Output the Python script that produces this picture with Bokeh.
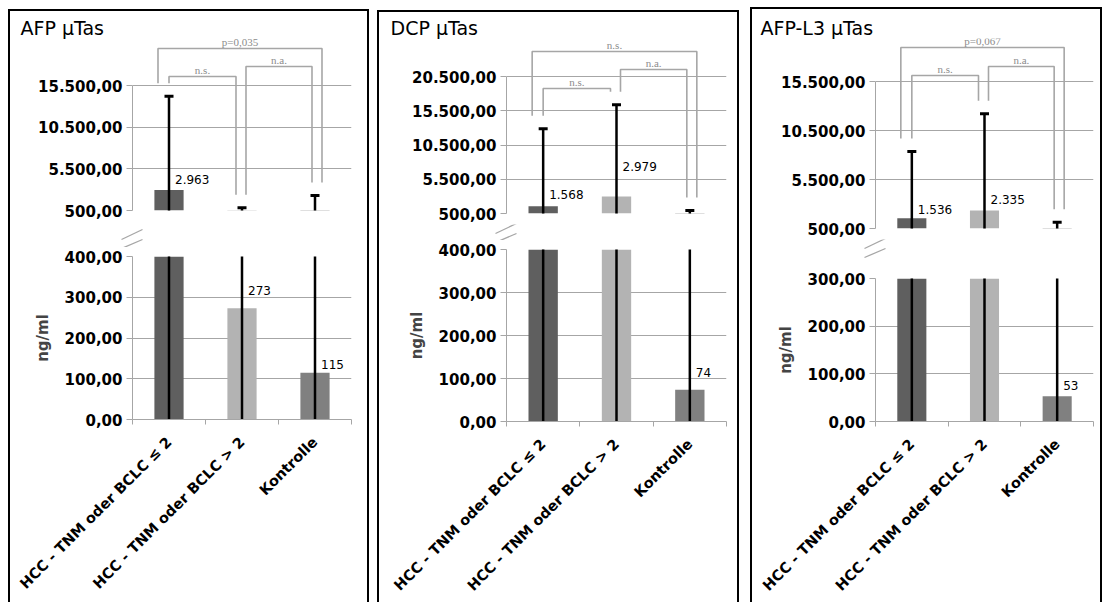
import math

from bokeh.core.properties import value
from bokeh.embed import file_html
from bokeh.layouts import column, row
from bokeh.models import ColumnDataSource, FixedTicker, LabelSet, Range1d, Title
from bokeh.plotting import figure
from bokeh.resources import INLINE

# ---------------------------------------------------------------- data
categories = ["HCC - TNM oder BCLC \u2264 2", "HCC - TNM oder BCLC > 2", "Kontrolle"]

titles = ["AFP \u00b5Tas", "DCP \u00b5Tas", "AFP-L3 \u00b5Tas"]

afp_mean = [2963, 273, 115]
afp_err_top = [14200, 830, 2300]
dcp_mean = [1568, 2979, 74]
dcp_err_top = [12870, 16370, 940]
afpl3_mean = [1536, 2335, 53]
afpl3_err_top = [8350, 12200, 1140]

afp_upper_ticks = [500, 5500, 10500, 15500]
dcp_upper_ticks = [500, 5500, 10500, 15500, 20500]
afpl3_upper_ticks = [500, 5500, 10500, 15500]
afp_lower_ticks = [0, 100, 200, 300, 400]
dcp_lower_ticks = [0, 100, 200, 300, 400]
afpl3_lower_ticks = [0, 100, 200, 300]

test_pairs = [(0, 2), (0, 1), (1, 2)]
afp_tests = ["p=0,035", "n.s.", "n.a."]
dcp_tests = ["n.s.", "n.s.", "n.a."]
afpl3_tests = ["p=0,067", "n.s.", "n.a."]

# ---------------------------------------------------------------- styling
BAR_COLORS = ["#5f5f5f", "#b3b3b3", "#808080"]
GRID = "#a6a6a6"
BRACKET = "#a6a6a6"
BRACKET_TEXT = "#8c8c8c"
FONT = "DejaVu Sans"
SERIF = "Liberation Serif"
WINDOW_H = 602
PAD_UP = 11  # room below the upper section for its lowest tick label
PAD_LO = 9   # room above the lower section for its highest tick label

# page geometry of each panel (pixels)
LAYOUT = [
    dict(box=(10, 11, 367), title_x=20, frame_x=(132, 351), upper_top=38, y_base=210, y_toptick=85,
         y_cut=256, y_zero=419, y_break=238, bracket_y=(48, 76, 66), lifts=(10, 18, 8)),
    dict(box=(379, 12, 737), title_x=390, frame_x=(506, 726), upper_top=38, y_base=213, y_toptick=76,
         y_cut=249, y_zero=427, y_break=232, bracket_y=(51, 88, 69), lifts=(12, 30, 17)),
    dict(box=(752, 9, 1100), title_x=760, frame_x=(875, 1093), upper_top=38, y_base=228, y_toptick=81,
         y_cut=278, y_zero=423, y_break=247, bracket_y=(47, 75, 66), lifts=(9, 11, 11)),
]
# horizontal offsets (px) of the bracket legs from the bar centres
LEG_OFFSETS = [(-11, 7), (0, -6), (4, -3)]
LEG_GAP = 13  # px between an error cap and the bracket leg above it


def german(v, decimals=0):
    s = f"{v:,.{decimals}f}"
    return s.replace(",", "\u00a7").replace(".", ",").replace("\u00a7", ".")


def style_yaxis(p, ticks, labels):
    ax = p.yaxis[0]
    ax.ticker = FixedTicker(ticks=ticks, minor_ticks=[])
    ax.major_label_overrides = {t: lab for t, lab in zip(ticks, labels)}
    ax.axis_line_color = GRID
    ax.major_tick_line_color = GRID
    ax.major_tick_in = 0
    ax.major_tick_out = 6
    ax.minor_tick_line_color = None
    ax.major_label_standoff = 4
    ax.major_label_text_font = FONT
    ax.major_label_text_font_style = "bold"
    ax.major_label_text_font_size = "15px"
    ax.major_label_text_color = "#000000"
    p.ygrid.grid_line_color = GRID
    p.ygrid.grid_line_width = 1
    p.xgrid.visible = False


def base_figure(width, height, x_range, y_range, borders, **kw):
    left, right, top, bottom = borders
    p = figure(width=width, height=height, x_range=x_range, y_range=y_range,
               output_backend="svg", toolbar_location=None,
               min_border_left=left, min_border_right=right,
               min_border_top=top, min_border_bottom=bottom, **kw)
    p.background_fill_color = "white"
    p.border_fill_color = "white"
    p.outline_line_color = None
    return p


def build_panel(title, means, err_tops, up_ticks, low_ticks, tests, g):
    left, top, right = g["box"]
    fl, fr = g["frame_x"]
    width = right - left
    px_per_cat = (fr - fl) / len(categories)
    centers = [i + 0.5 for i in range(len(categories))]
    err_lows = [m - (t - m) for m, t in zip(means, err_tops)]
    src = ColumnDataSource(dict(x=centers, mean=means, top=err_tops, low=err_lows, color=BAR_COLORS))

    # ---------- upper (broken) section
    up_units = (up_ticks[-1] - up_ticks[0]) / (g["y_base"] - g["y_toptick"])
    up_end = up_ticks[0] + (g["y_base"] - g["upper_top"]) * up_units
    up = base_figure(width, g["y_base"] - top + PAD_UP, Range1d(0, 3), Range1d(up_ticks[0], up_end),
                     (fl - left, right - fr, g["upper_top"] - top, PAD_UP), x_axis_location=None)
    up.add_layout(Title(text=title, align="left", offset=g["title_x"] - fl,
                        text_font=FONT, text_font_style="normal", text_font_size="19px",
                        standoff=0, text_color="#000000"), "above")
    style_yaxis(up, up_ticks, [german(t, 2) for t in up_ticks])
    up.yaxis.bounds = (up_ticks[0], up_ticks[-1])

    up.vbar(x="x", top="mean", bottom=0, width=0.4, fill_color="color", line_color=None, source=src)
    up.segment(x0="x", y0="low", x1="x", y1="top", line_color="black", line_width=2.5, source=src)
    up.scatter(x="x", y="top", marker="dash", size=9, line_color="black", line_width=3, source=src)

    # significance brackets
    xs, ys, tx, ty = [], [], [], []
    for k, (i, j) in enumerate(test_pairs):
        xl = centers[i] + LEG_OFFSETS[k][0] / px_per_cat
        xr = centers[j] + LEG_OFFSETS[k][1] / px_per_cat
        yb = up_ticks[0] + (g["y_base"] - g["bracket_y"][k]) * up_units
        yl = err_tops[i] + LEG_GAP * up_units
        yr = err_tops[j] + LEG_GAP * up_units
        xs.append([xl, xl, xr, xr])
        ys.append([yl, yb, yb, yr])
        tx.append((xl + xr) / 2)
        ty.append(yb)
    up.multi_line(xs=xs, ys=ys, line_color=BRACKET, line_width=1.6)
    up.add_layout(LabelSet(x="x", y="y", text="t", source=ColumnDataSource(dict(x=tx, y=ty, t=tests)),
                           text_font=value(SERIF), text_font_size="11px", text_color=BRACKET_TEXT,
                           text_align="center", text_baseline="bottom", y_offset=1))

    # ---------- axis break: a strip continuing the lower scale above its top
    low_units = low_ticks[-1] / (g["y_zero"] - g["y_cut"])
    gap_h = g["y_cut"] - g["y_base"] - PAD_UP - PAD_LO
    gap_lo = low_ticks[-1] + PAD_LO * low_units
    gap = figure(width=width, height=gap_h,
                 x_range=Range1d(-(fl - left) / px_per_cat, 3 + (right - fr) / px_per_cat),
                 y_range=Range1d(gap_lo, gap_lo + gap_h * low_units),
                 output_backend="svg", toolbar_location=None, min_border=0,
                 x_axis_location=None, y_axis_location=None)
    gap.frame_align = False
    gap.background_fill_color = "white"
    gap.border_fill_color = "white"
    gap.outline_line_color = None
    gap.xgrid.visible = False
    gap.ygrid.visible = False
    brk_y = low_ticks[-1] + (g["y_cut"] - g["y_break"]) * low_units
    gap.segment(x0=[-11 / px_per_cat] * 2, x1=[10 / px_per_cat] * 2,
                y0=[brk_y - 1 * low_units, brk_y - 10 * low_units],
                y1=[brk_y + 9 * low_units, brk_y - 1 * low_units],
                line_color=GRID, line_width=1.3)

    # ---------- lower section
    lo = base_figure(width, WINDOW_H - g["y_cut"] + PAD_LO, Range1d(0, 3), Range1d(0, low_ticks[-1]),
                     (fl - left, right - fr, PAD_LO, WINDOW_H - g["y_zero"]))
    style_yaxis(lo, low_ticks, [german(t, 2) for t in low_ticks])
    lo.yaxis.axis_label = "ng/ml"
    lo.yaxis.axis_label_text_font = FONT
    lo.yaxis.axis_label_text_font_style = "bold"
    lo.yaxis.axis_label_text_font_size = "15px"
    lo.yaxis.axis_label_standoff = 10

    xa = lo.xaxis[0]
    xa.ticker = FixedTicker(ticks=centers, minor_ticks=[0, 1, 2, 3])
    xa.major_label_overrides = {c: lab for c, lab in zip(centers, categories)}
    xa.major_label_orientation = math.pi / 4
    xa.major_tick_line_color = None
    xa.minor_tick_line_color = GRID
    xa.minor_tick_in = 0
    xa.minor_tick_out = 5
    xa.axis_line_color = GRID
    xa.major_label_standoff = 14
    xa.major_label_text_font = FONT
    xa.major_label_text_font_style = "bold"
    xa.major_label_text_font_size = "14.5px"
    xa.major_label_text_color = "#000000"

    lo.vbar(x="x", top="mean", bottom=0, width=0.4, fill_color="color", line_color=None, source=src)
    lo.segment(x0="x", y0="low", x1="x", y1="top", line_color="black", line_width=2.5, source=src)

    # value labels, placed in whichever section shows the bar top
    for p, keep in ((up, lambda v: v > up_ticks[0]), (lo, lambda v: v <= up_ticks[0])):
        idx = [n for n, v in enumerate(means) if keep(v)]
        lsrc = ColumnDataSource(dict(x=[centers[n] for n in idx], y=[means[n] for n in idx],
                                     t=[german(means[n]) for n in idx],
                                     dy=[g["lifts"][n] for n in idx]))
        p.add_layout(LabelSet(x="x", y="y", text="t", source=lsrc, x_offset=6, y_offset="dy",
                              text_font=value(FONT), text_font_size="12px", text_color="#000000",
                              text_align="left", text_baseline="middle"))

    return up, gap, lo


panels = [
    (titles[0], afp_mean, afp_err_top, afp_upper_ticks, afp_lower_ticks, afp_tests),
    (titles[1], dcp_mean, dcp_err_top, dcp_upper_ticks, dcp_lower_ticks, dcp_tests),
    (titles[2], afpl3_mean, afpl3_err_top, afpl3_upper_ticks, afpl3_lower_ticks, afpl3_tests),
]

cols = []
prev_right = 0
for spec, g in zip(panels, LAYOUT):
    up, gap, lo = build_panel(*spec, g)
    left, top, right = g["box"]
    cols.append(column(up, gap, lo, spacing=0, margin=(top, 0, 0, left - prev_right),
                       styles={"box-shadow": "0 0 0 2px #000000"}))
    prev_right = right

page = row(*cols, spacing=0)

open("out.html", "w").write(file_html(page, INLINE))
